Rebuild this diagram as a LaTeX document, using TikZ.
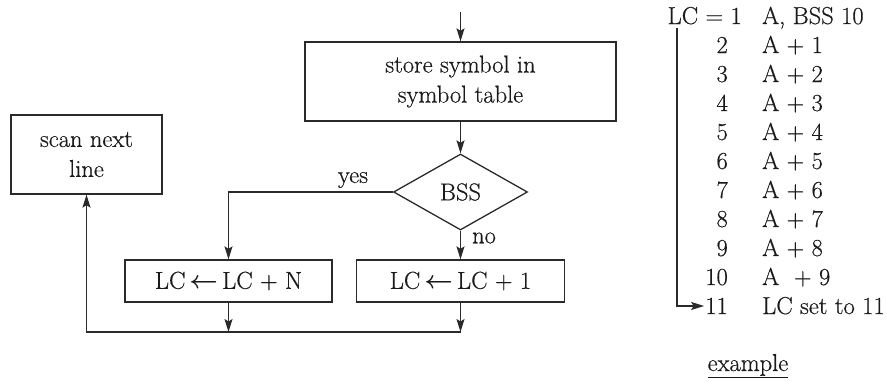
\documentclass[tikz,border=0pt]{standalone}
\usepackage{fontspec}
\setmainfont{Latin Modern Roman}[FakeBold=0.5]
\usetikzlibrary{shapes.geometric,arrows.meta}
\definecolor{ink}{HTML}{2A2A2A}
\definecolor{tx}{HTML}{1A1A1A}
\begin{document}
\begin{tikzpicture}[x=1pt,y=-1pt,
  font=\fontsize{24.5}{30}\selectfont,
  every node/.style={text=tx},
  box/.style={draw=ink,line width=1.3pt,rectangle,inner sep=0pt,align=center},
  decision/.style={draw=ink,line width=1.3pt,diamond,inner sep=0pt,minimum width=134pt,minimum height=76pt},
  conn/.style={draw=ink,line width=1.3pt,-{Stealth[length=13pt,width=8pt,inset=2.5pt]}},
  num/.style={anchor=base east,inner sep=0pt},
  txt/.style={anchor=base west,inner sep=0pt},
  lbl/.style={inner sep=0pt}]
\useasboundingbox (0,0) rectangle (887,381);
% flowchart
\coordinate (in) at (460.5,12);
\node[box,minimum width=311pt,minimum height=79pt] (store) at (460.5,81.5) {store symbol in\\symbol table};
\node[decision] (bss) at (460.5,192) {BSS};
\node[box,minimum width=151pt,minimum height=79pt] (scan) at (86.5,154.5) {scan next\\line};
\node[box,minimum width=207pt,minimum height=42pt] (lcn) at (228.5,281) {LC\,{\boldmath$\leftarrow$}\,LC + N};
\node[box,minimum width=208pt,minimum height=42pt] (lc1) at (460.5,281) {LC\,{\boldmath$\leftarrow$}\,LC + 1};
\node[lbl] (yes) at (353,180) {yes};
\node[lbl] (no) at (484,238) {no};
\coordinate (b1) at (228.5,332);
\coordinate (b2) at (460.5,332);
\draw[conn] (in) -- (store);
\draw[conn] (store) -- (bss);
\draw[conn] (bss.west) -| (lcn.north);
\draw[conn] (bss.south) -- (lc1.north);
\draw[conn] (lcn.south) -- (b1);
\draw[conn] (lc1.south) -- (b2);
\draw[conn] (b2) -| (scan.south);
% example column
\node[anchor=base east,inner sep=0pt] (lc) at (742,24) {LC = 1};
\node[txt] (t1) at (762,24) {A, BSS 10};
\node[num] (n2) at (728,53) {2};   \node[txt] (t2) at (762,53) {A + 1};
\node[num] (n3) at (728,82) {3};   \node[txt] (t3) at (762,82) {A + 2};
\node[num] (n4) at (728,111) {4};  \node[txt] (t4) at (762,111) {A + 3};
\node[num] (n5) at (728,140) {5};  \node[txt] (t5) at (762,140) {A + 4};
\node[num] (n6) at (728,169) {6};  \node[txt] (t6) at (762,169) {A + 5};
\node[num] (n7) at (728,198) {7};  \node[txt] (t7) at (762,198) {A + 6};
\node[num] (n8) at (728,227) {8};  \node[txt] (t8) at (762,227) {A + 7};
\node[num] (n9) at (728,256) {9};  \node[txt] (t9) at (762,256) {A + 8};
\node[num] (n10) at (728,285) {10}; \node[txt] (t10) at (762,285) {A\ \ + 9};
\node[num] (n11) at (728,314) {11}; \node[txt] (t11) at (762,314) {LC set to 11};
\coordinate (vs) at (677,28);
\draw[conn] (vs) |- ([xshift=-1pt,yshift=8pt]n11.base west);
\node[lbl,anchor=base] (ex) at (748,371) {\underline{example}};
\end{tikzpicture}
\end{document}
